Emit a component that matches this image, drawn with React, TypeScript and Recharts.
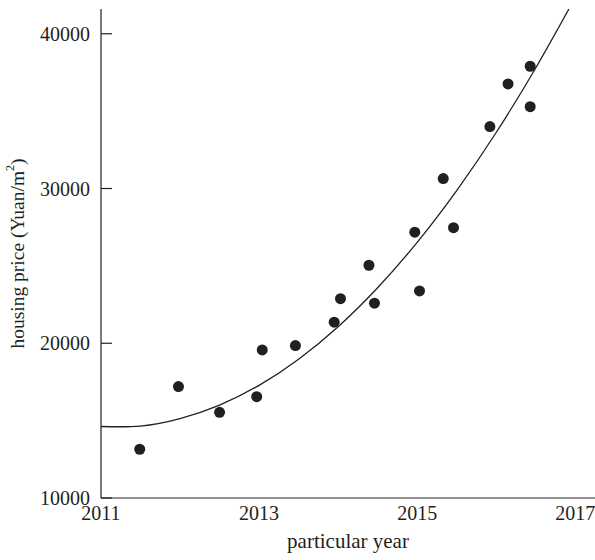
import React from 'react'
import { ComposedChart, Scatter, Line, XAxis, YAxis, Label } from 'recharts'

const yearTicks = [2011, 2013, 2015, 2017]
const priceTicks = [10000, 20000, 30000, 40000]

// observed prices per year
const observedYears = [
  2011.49, 2011.98, 2012.5, 2012.97, 2013.04, 2013.46, 2013.95, 2014.03, 2014.46,
  2014.39, 2014.97, 2015.03, 2015.33, 2015.46, 2015.92, 2016.15, 2016.43, 2016.43,
]
const observedPrices = [
  13150, 17200, 15540, 16550, 19570, 19850, 21360, 22880, 22590,
  25040, 27180, 23380, 30640, 27470, 34000, 36760, 35290, 37900,
]

// fitted curve
const fitYears = [2011, 2011.5, 2012, 2012.5, 2013, 2013.5, 2014, 2014.5, 2015, 2015.5, 2016, 2016.5, 2016.92]
const fitPrices = [14620, 14650, 15130, 16000, 17280, 18970, 21070, 23590, 26520, 29870, 33620, 37790, 41600]

const points = observedYears.map((year, i) => ({ year, price: observedPrices[i] }))
const curve = fitYears.map((year, i) => ({ year, price: fitPrices[i] }))

const INK = '#231f20'
const FONT = '"Liberation Serif", "Times New Roman", serif'

function YTick({ x, y, payload }: any) {
  return (
    <g>
      <text x={x} y={y} dy="0.35em" textAnchor="end" fill={INK} fontSize={20} fontFamily={FONT}>
        {payload.value}
      </text>
      <line x1={x + 11} x2={x + 22} y1={y} y2={y} stroke={INK} strokeWidth={1.2} />
    </g>
  )
}

function XTick({ x, y, payload }: any) {
  return (
    <text x={x} y={y} dy="0.71em" textAnchor="middle" fill={INK} fontSize={20} fontFamily={FONT}>
      {payload.value}
    </text>
  )
}

function YLabel({ viewBox }: any) {
  const cx = 17
  const cy = viewBox.y + viewBox.height / 2
  return (
    <text
      x={cx}
      y={cy}
      transform={`rotate(-90 ${cx} ${cy})`}
      textAnchor="middle"
      dominantBaseline="central"
      fill={INK}
      fontSize={19.5}
      fontFamily={FONT}
    >
      housing price (Yuan/m
      <tspan dy={-7} fontSize={12}>2</tspan>
      <tspan dy={7}>)</tspan>
    </text>
  )
}

export default function App() {
  return (
    <div style={{ position: 'absolute', left: 0, top: 0, width: 595, height: 560, background: '#fff' }}>
      <ComposedChart width={595} height={560} margin={{ top: 9, right: 0, bottom: 0, left: 0 }}>
        <XAxis
          dataKey="year"
          type="number"
          domain={[2011, 2017.25]}
          ticks={yearTicks}
          allowDataOverflow
          tickLine={false}
          tickSize={0}
          tickMargin={8}
          tick={<XTick />}
          axisLine={{ stroke: INK, strokeWidth: 1.2 }}
          height={62}
        >
          <Label
            value="particular year"
            position="insideBottom"
            offset={12}
            fill={INK}
            fontSize={21}
            fontFamily={FONT}
          />
        </XAxis>
        <XAxis
          xAxisId="top"
          orientation="top"
          type="number"
          domain={[2011, 2017.25]}
          tick={false}
          tickLine={false}
          height={0}
          axisLine={{ stroke: INK, strokeWidth: 1.2 }}
        />
        <YAxis
          type="number"
          domain={[10000, 41600]}
          ticks={priceTicks}
          allowDataOverflow
          tickLine={false}
          tickSize={0}
          tickMargin={11}
          tick={<YTick />}
          axisLine={{ stroke: INK, strokeWidth: 1.2 }}
          width={101}
        >
          <Label content={<YLabel />} />
        </YAxis>
        <Line
          data={curve}
          dataKey="price"
          type="natural"
          stroke={INK}
          strokeWidth={1.3}
          dot={false}
          activeDot={false}
          isAnimationActive={false}
        />
        <Scatter
          data={points}
          dataKey="price"
          fill={INK}
          shape={(p: any) => <circle cx={p.cx} cy={p.cy} r={5.5} fill={INK} />}
          isAnimationActive={false}
        />
      </ComposedChart>
    </div>
  )
}
